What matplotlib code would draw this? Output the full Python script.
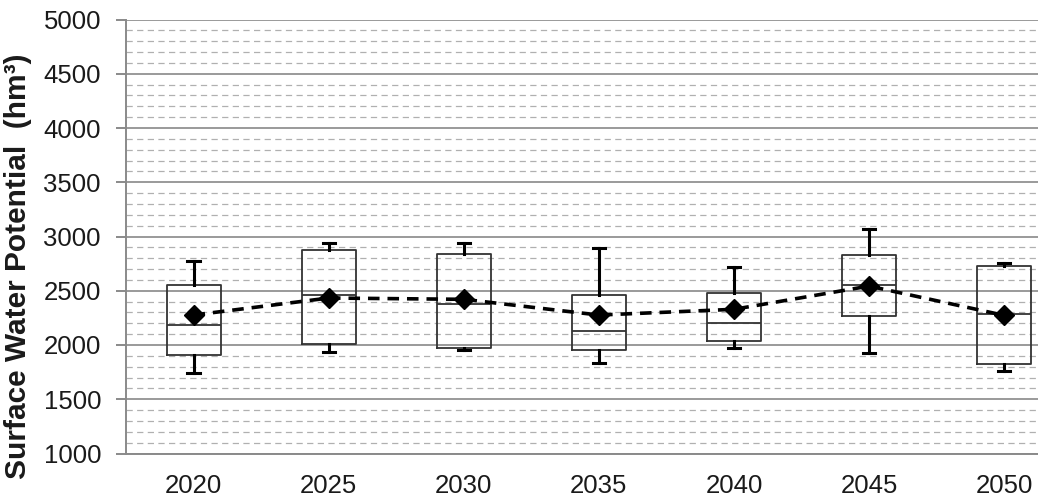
import matplotlib
matplotlib.use("Agg")
import matplotlib.pyplot as plt
from matplotlib.ticker import MultipleLocator

plt.rcParams['font.family'] = ['Liberation Sans', 'DejaVu Sans']

years = ["2020", "2025", "2030", "2035", "2040", "2045", "2050"]
whisker_low = [1739, 1936, 1958, 1831, 1976, 1924, 1761]
q1 = [1908, 2013, 1970, 1958, 2040, 2271, 1823]
median = [2188, 2460, 2381, 2129, 2203, 2552, 2283]
q3 = [2552, 2872, 2838, 2458, 2482, 2826, 2731]
whisker_high = [2771, 2936, 2936, 2890, 2722, 3065, 2752]
means = [2276, 2433, 2421, 2276, 2329, 2543, 2273]

W, H = 1038, 501
fig = plt.figure(figsize=(W / 100, H / 100), dpi=100)
left, right, top, bottom = 126, 1038, 19.5, 453.5
ax = fig.add_axes([left / W, 1 - bottom / H, (right - left) / W, (bottom - top) / H])

stats = []
for i, y in enumerate(years):
    stats.append(dict(label=y, whislo=whisker_low[i], q1=q1[i], med=median[i],
                      q3=q3[i], whishi=whisker_high[i], fliers=[]))

pos = list(range(len(years)))
ax.bxp(stats, positions=pos, widths=0.4, showfliers=False, patch_artist=False,
       boxprops=dict(color='#333333', linewidth=1.3),
       medianprops=dict(color='#333333', linewidth=1.3),
       whiskerprops=dict(color='black', linewidth=2.2),
       capprops=dict(color='black', linewidth=2.2),
       capwidths=0.09, zorder=3)

ax.plot(pos, means, color='black', linestyle=(0, (3.2, 2.2)), linewidth=2.6,
        marker='D', markersize=10, markerfacecolor='black', markeredgecolor='black',
        zorder=4)

ax.set_ylim(1000, 5000)
ax.set_xlim(-0.5, 6.25)
ax.yaxis.set_major_locator(MultipleLocator(500))
ax.yaxis.set_minor_locator(MultipleLocator(100))
ax.grid(axis='y', which='major', color='#9a9a9a', linewidth=1.4, linestyle='-', zorder=0)
ax.grid(axis='y', which='minor', color='#b0b0b0', linewidth=0.9, linestyle=(0, (5, 3.5)), zorder=0)
ax.set_axisbelow(True)

for s in ['top', 'right']:
    ax.spines[s].set_visible(False)
for s in ['left', 'bottom']:
    ax.spines[s].set_color('#8a8a8a')
    ax.spines[s].set_linewidth(1.4)

ax.tick_params(axis='y', which='major', length=7, width=1.4, color='#8a8a8a',
               labelsize=18.5, pad=11, labelcolor='#1a1a1a')
ax.tick_params(axis='y', which='minor', length=0)
ax.tick_params(axis='x', length=0, labelsize=18.5, pad=15, labelcolor='#1a1a1a')
ax.set_xticks(pos)
ax.set_xticklabels(years)

fig.text(18 / W, 1 - 266 / H, "Surface Water Potential  (hm\u00b3)", rotation=90,
         ha='center', va='center', fontsize=21.5, fontweight='bold', color='#1a1a1a')

fig.savefig("out.png", dpi=100)
